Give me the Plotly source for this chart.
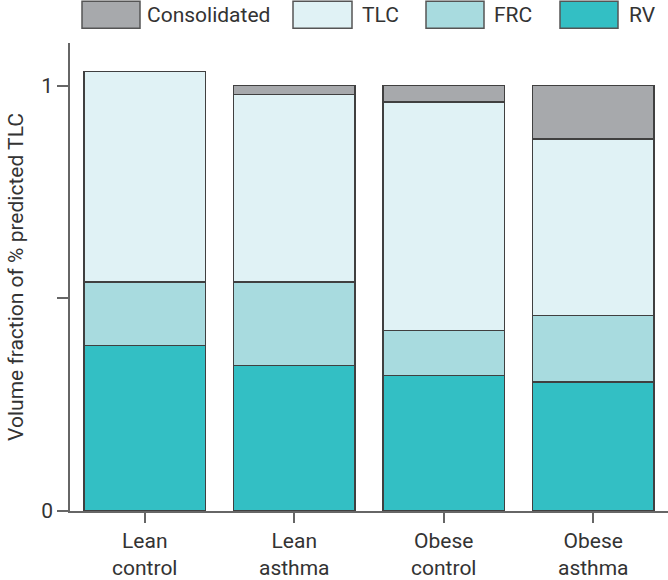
import plotly.graph_objects as go

# ---- data (fractions of % predicted TLC) ----
categories = ["Lean<br>control", "Lean<br>asthma", "Obese<br>control", "Obese<br>asthma"]
rv = [0.389, 0.342, 0.318, 0.303]          # RV level
frc = [0.538, 0.538, 0.424, 0.460]         # FRC level
tlc = [1.033, 0.979, 0.961, 0.874]         # TLC level
consolidated = [0.0, 0.021, 0.039, 0.126] # consolidated fraction on top of TLC

series_names = ["Consolidated", "TLC", "FRC", "RV"]
colors = {"Consolidated": "#a7a9ac", "TLC": "#e0f2f5", "FRC": "#a8dbdf", "RV": "#33bfc4"}

y_ticks = [0, 0.5, 1]
y_ticktext = ["0", "", "1"]

FONT = "Roboto, sans-serif"
FS = 21
TXT = "#333333"
OUTLINE = "#404040"
AXIS = "#666666"

segments = {
    "RV": rv,
    "FRC": [f - r for f, r in zip(frc, rv)],
    "TLC": [t - f for t, f in zip(tlc, frc)],
    "Consolidated": [c if c > 0 else None for c in consolidated],
}

x_idx = list(range(len(categories)))
fig = go.Figure()
for name in ["RV", "FRC", "TLC", "Consolidated"]:
    fig.add_trace(go.Bar(
        x=x_idx, y=segments[name], name=name,
        marker=dict(color=colors[name], line=dict(color=OUTLINE, width=1.5)),
        width=0.81, showlegend=False,
    ))

# ---- custom legend (large swatches, top row) ----
PL, PR, PT, PB = 70, 0, 43, 65
W, H = 668, 580
pw, ph = W - PL - PR, H - PT - PB

def px_x(px):
    return (px - PL) / pw

def px_y(py):
    return (H - PB - py) / ph

legend_boxes = [(82, 140, 147), (293, 352, 362), (426, 484, 494), (560, 618, 629)]
for name, (x0, x1, tx) in zip(series_names, legend_boxes):
    fig.add_shape(type="rect", xref="paper", yref="paper",
                  x0=px_x(x0), x1=px_x(x1), y0=px_y(28), y1=px_y(1),
                  fillcolor=colors[name], line=dict(color="#555555", width=1.5))
    fig.add_annotation(xref="paper", yref="paper", x=px_x(tx - 2), y=px_y(15),
                       text=name, showarrow=False, xanchor="left", yanchor="middle",
                       font=dict(family=FONT, size=FS, color=TXT))

fig.update_layout(
    barmode="stack",
    width=W, height=H,
    margin=dict(l=PL, r=PR, t=PT, b=PB, pad=0),
    plot_bgcolor="white", paper_bgcolor="white",
    font=dict(family=FONT, size=FS, color=TXT),
    xaxis=dict(
        range=[-0.5, 3.5], tickvals=x_idx, ticktext=categories,
        showline=True, linecolor=AXIS, linewidth=1.5,
        ticks="outside", ticklen=10, tickwidth=1.5, tickcolor=AXIS,
        showgrid=False, zeroline=False,
        tickfont=dict(family=FONT, size=FS, color=TXT),
    ),
    yaxis=dict(
        range=[0, 1.1], tickvals=y_ticks, ticktext=y_ticktext,
        showline=True, linecolor=AXIS, linewidth=1.5,
        ticks="outside", ticklen=11, tickwidth=1.5, tickcolor=AXIS,
        showgrid=False, zeroline=False,
        title=dict(text="Volume fraction of % predicted TLC", standoff=12,
                   font=dict(family=FONT, size=FS, color=TXT)),
        tickfont=dict(family=FONT, size=FS, color=TXT),
    ),
)

fig.write_html("out.html", config={"displayModeBar": False},
               post_script="document.body.style.margin='0';")
